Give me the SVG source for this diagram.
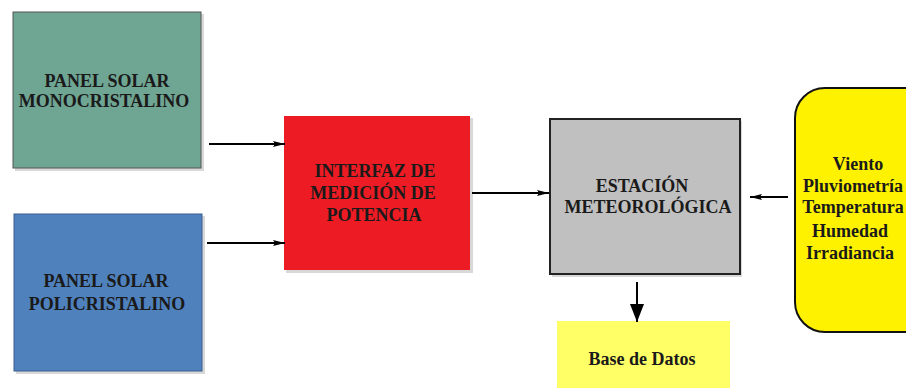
<svg xmlns="http://www.w3.org/2000/svg" width="906" height="388" viewBox="0 0 906 388">
<defs>
<style>
text{font-family:'Liberation Serif','Times New Roman','DejaVu Serif',serif;font-weight:bold;font-size:18px;fill:#1a1a1a;text-anchor:middle}
.c{stroke:#000;stroke-width:2;fill:none}
.sh{fill:#d8d8d8}
</style>
<marker id="a" viewBox="0 0 12 8" refX="12" refY="4" markerWidth="12" markerHeight="8" markerUnits="userSpaceOnUse" orient="auto">
<path d="M0,1 L12,4 L0,7 L2,4 Z" fill="#000"/>
</marker>
<marker id="b" viewBox="0 0 14 18" refX="7" refY="18" markerWidth="14" markerHeight="18" markerUnits="userSpaceOnUse" orient="0">
<path d="M0,0 L14,0 L7,18 Z" fill="#000"/>
</marker>
</defs>
<rect width="906" height="388" fill="#fff"/>
<g id="mono">
<rect class="sh" x="15" y="14" width="189" height="157"/>
<rect x="13" y="12" width="188" height="156" fill="#6fa593" stroke="#555" stroke-width="1"/>
<text x="107" y="87" font-family="Liberation Serif">PANEL SOLAR</text>
<text x="104" y="107" font-family="Liberation Serif">MONOCRISTALINO</text>
</g>
<g id="poli">
<rect class="sh" x="16" y="216" width="189" height="158"/>
<rect x="14" y="214" width="188" height="157" fill="#4f81bd" stroke="#3a5f8f" stroke-width="1"/>
<text x="106" y="287" font-family="Liberation Serif">PANEL SOLAR</text>
<text x="107" y="310" font-family="Liberation Serif">POLICRISTALINO</text>
</g>
<g id="interfaz">
<rect class="sh" x="286" y="118" width="187" height="155"/>
<rect x="284" y="116" width="186" height="154" fill="#ed1c24"/>
<text x="375" y="177" font-family="Liberation Serif">INTERFAZ DE</text>
<text x="373" y="199" font-family="Liberation Serif">MEDICIÓN DE</text>
<text x="374" y="221" font-family="Liberation Serif">POTENCIA</text>
</g>
<g id="estacion">
<rect class="sh" x="552" y="121" width="190" height="156"/>
<rect x="550" y="119" width="190" height="155" fill="#c0c0c0" stroke="#222" stroke-width="2"/>
<text x="642" y="192" font-family="Liberation Serif">ESTACIÓN</text>
<text x="648" y="213" font-family="Liberation Serif">METEOROLÓGICA</text>
</g>
<g id="variables">
<rect x="795" y="88" width="140" height="244" rx="30" ry="30" fill="#fff200" stroke="#111" stroke-width="2"/>
<text x="858" y="170" font-family="Liberation Serif">Viento</text>
<text x="853" y="192" font-family="Liberation Serif">Pluviometría</text>
<text x="853" y="213" font-family="Liberation Serif">Temperatura</text>
<text x="850" y="237" font-family="Liberation Serif">Humedad</text>
<text x="850" y="259" font-family="Liberation Serif">Irradiancia</text>
</g>
<g id="base">
<rect x="557" y="321" width="173" height="70" fill="#ffff66"/>
<text x="642" y="365" font-family="Liberation Serif">Base de Datos</text>
</g>
<g id="connectors">
<line class="c" x1="209" y1="144" x2="285" y2="144" marker-end="url(#a)"/>
<line class="c" x1="207" y1="243" x2="285" y2="243" marker-end="url(#a)"/>
<line class="c" x1="472" y1="193" x2="549" y2="193" marker-end="url(#a)"/>
<line class="c" x1="788" y1="197" x2="750" y2="197" marker-end="url(#a)"/>
<line class="c" x1="637" y1="282" x2="637" y2="322" marker-end="url(#b)"/>
</g>
</svg>
